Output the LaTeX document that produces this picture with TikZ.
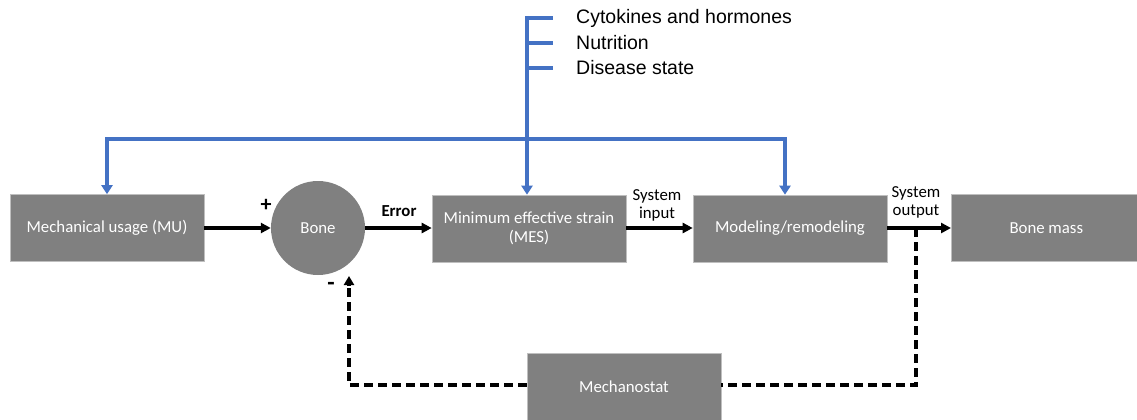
\documentclass[tikz,border=0pt]{standalone}
\usepackage{fontspec}
\setmainfont{Carlito}
\newfontfamily\arialf{Liberation Sans}
\usetikzlibrary{arrows.meta}
\definecolor{boxgray}{RGB}{128,128,128}
\definecolor{lineblue}{RGB}{68,114,196}
\begin{document}
\begin{tikzpicture}[x=1pt,y=-1pt,
  gbox/.style={fill=boxgray,draw=black!25,line width=0.6pt,minimum width=194pt,minimum height=67pt,inner sep=0pt,text=white,font=\fontsize{16.8}{19}\selectfont,align=center},
  flow/.style={line width=3.2pt,-{Triangle[length=10pt,width=10pt]}},
  fb/.style={line width=3.2pt,dash pattern=on 9pt off 5pt},
  blue/.style={draw=lineblue,line width=3.2pt},
  barr/.style={blue,-{Triangle[length=9pt,width=11pt]}},
  lbl/.style={font=\fontsize{16.8}{18}\selectfont,align=center,inner sep=0pt}]
\useasboundingbox (0,0) rectangle (1137,420);
% nodes
\node[gbox] (mu) at (107,228) {Mechanical usage (MU)};
\node[circle,fill=boxgray,minimum size=94pt,inner sep=0pt,text=white,font=\fontsize{16.8}{19}\selectfont] (bone) at (318,228) {Bone};
\node[gbox] (mes) at (529,228.5) {Minimum effective strain\\(MES)};
\node[gbox] (mod) at (790,228.5) {Modeling/remodeling};
\node[gbox,minimum width=190pt,anchor=west] (mass) at (951,228) {Bone mass};
\node[gbox] (mech) at (624,386.5) {Mechanostat};
% blue inputs
\coordinate (btop) at (527,16);
\coordinate (bmid) at (527,139);
\coordinate (bl) at (107,139);
\coordinate (br) at (785,139);
\draw[blue] (btop) -- (bmid);
\draw[blue] (527,18) -- (553,18);
\draw[blue] (527,43) -- (553,43);
\draw[blue] (527,68) -- (553,68);
\node[anchor=west,font=\arialf\fontsize{19.5}{21}\selectfont,inner sep=0pt] (t1) at (576,18) {Cytokines and hormones};
\node[anchor=west,font=\arialf\fontsize{19.5}{21}\selectfont,inner sep=0pt] (t2) at (576,43) {Nutrition};
\node[anchor=west,font=\arialf\fontsize{19.5}{21}\selectfont,inner sep=0pt] (t3) at (576,68) {Disease state};
\draw[blue,line cap=rect] (bl) -- (br);
\draw[barr] (bl) -- (mu.north);
\draw[barr] (bmid) -- (mes.north -| bmid);
\draw[barr] (br) -- (mod.north -| br);
% main flow
\draw[flow] (mu.east) -- (bone.west);
\draw[flow] (bone.east) -- (mes.west |- bone.east);
\draw[flow] (mes.east |- mu.east) -- (mod.west |- mu.east);
\draw[flow] (mod.east |- mu.east) -- (mass.west);
\node[lbl,font=\bfseries\fontsize{22}{22}\selectfont] (plus) at (266,205) {+};
\node[lbl,font=\bfseries\fontsize{16.8}{18}\selectfont] (err) at (399,211) {Error};
\node[lbl] (sin) at (657,205) {System\\input};
\node[lbl] (sout) at (916,202) {System\\output};
\node[lbl,font=\bfseries\fontsize{24}{24}\selectfont] (minus) at (331,286) {-};
% feedback
\coordinate (tap) at (916,228);
\coordinate (fr) at (916,385);
\coordinate (fl) at (349,385);
\coordinate (fend) at (349,276);
\draw[fb] (tap) -- (fr) -- (mech.east |- fr);
\draw[fb] (mech.west |- fl) -- (fl) -- ([yshift=-8pt]fend);
\draw[line width=3.2pt,-{Triangle[length=9pt,width=10pt]}] ([yshift=-10pt]fend) -- (fend);
\end{tikzpicture}
\end{document}
